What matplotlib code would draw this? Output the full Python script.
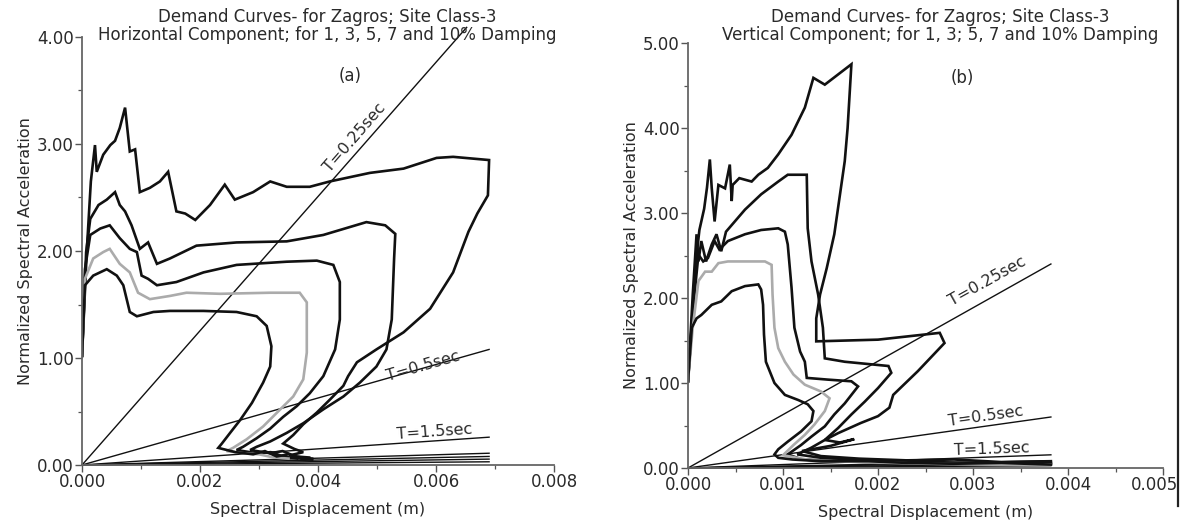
import numpy as np
import matplotlib
matplotlib.use("Agg")
import matplotlib.pyplot as plt
from matplotlib.lines import Line2D
from matplotlib.ticker import MultipleLocator, FormatStrFormatter, FuncFormatter

plt.rcParams["font.family"] = "DejaVu Sans"

# ---------------- (a) horizontal component ----------------
# spectral displacement in m, normalized spectral acceleration
h_1_sd = [0.0, 0.00008, 0.00015, 0.00022, 0.00025, 0.00036, 0.00048, 0.00056, 0.00064, 0.00073,
          0.00081, 0.00090, 0.00098, 0.00115, 0.00132, 0.00146, 0.00160, 0.00175, 0.00192, 0.00217,
          0.00242, 0.00259, 0.00290, 0.00319, 0.00347, 0.00386, 0.00420, 0.00488, 0.00545, 0.00601,
          0.00629, 0.00690, 0.00688, 0.00670, 0.00655, 0.00629, 0.00590, 0.00545, 0.00499, 0.00466,
          0.00451, 0.00443, 0.00420, 0.00398, 0.00375, 0.00358, 0.00341, 0.00360, 0.00375, 0.00352,
          0.00372, 0.00390]
h_1_sa = [1.02, 1.99, 2.65, 2.99, 2.74, 2.90, 2.99, 3.03, 3.15, 3.34,
          2.93, 2.95, 2.55, 2.59, 2.65, 2.74, 2.37, 2.35, 2.29, 2.43,
          2.62, 2.48, 2.55, 2.65, 2.60, 2.60, 2.65, 2.73, 2.77, 2.87,
          2.88, 2.85, 2.52, 2.35, 2.18, 1.80, 1.46, 1.24, 1.08, 0.96,
          0.83, 0.74, 0.61, 0.49, 0.38, 0.28, 0.20, 0.15, 0.12, 0.09,
          0.07, 0.06]

h_3_sd = [0.0, 0.00007, 0.00014, 0.00028, 0.00042, 0.00056, 0.00064, 0.00073, 0.00084, 0.00098,
          0.00112, 0.00127, 0.00149, 0.00194, 0.00262, 0.00347, 0.00409, 0.00482, 0.00514, 0.00531,
          0.00529, 0.00525, 0.00516, 0.00499, 0.00471, 0.00443, 0.00409, 0.00375, 0.00347, 0.00319,
          0.00296, 0.00285, 0.00319, 0.00340, 0.00362, 0.00385]
h_3_sa = [1.02, 1.99, 2.30, 2.43, 2.48, 2.55, 2.43, 2.37, 2.24, 2.02,
          2.08, 1.88, 1.93, 2.05, 2.08, 2.09, 2.15, 2.27, 2.24, 2.16,
          1.93, 1.36, 1.08, 0.92, 0.77, 0.64, 0.52, 0.39, 0.30, 0.22,
          0.17, 0.14, 0.11, 0.13, 0.08, 0.07]

h_5_sd = [0.0, 0.00005, 0.00014, 0.00031, 0.00047, 0.00064, 0.00081, 0.00093, 0.00101, 0.00112,
          0.00127, 0.00160, 0.00206, 0.00262, 0.00347, 0.00398, 0.00426, 0.00437, 0.00437, 0.00429,
          0.00409, 0.00386, 0.00364, 0.00341, 0.00319, 0.00296, 0.00273, 0.00262, 0.00296, 0.00320,
          0.00341, 0.00365]
h_5_sa = [1.02, 1.83, 2.15, 2.21, 2.24, 2.12, 2.02, 1.99, 1.77, 1.74,
          1.68, 1.71, 1.80, 1.87, 1.90, 1.91, 1.87, 1.71, 1.36, 1.08,
          0.83, 0.67, 0.55, 0.45, 0.34, 0.25, 0.17, 0.14, 0.11, 0.12,
          0.08, 0.06]

h_7_sd = [0.0, 0.00005, 0.00019, 0.00036, 0.00047, 0.00064, 0.00081, 0.00095, 0.00115, 0.00149,
          0.00177, 0.00234, 0.00319, 0.00369, 0.00381, 0.00381, 0.00375, 0.00358, 0.00336, 0.00307,
          0.00279, 0.00256, 0.00245, 0.00273, 0.00300, 0.00325, 0.00350]
h_7_sa = [1.02, 1.74, 1.93, 1.99, 2.02, 1.88, 1.80, 1.61, 1.55, 1.58,
          1.61, 1.60, 1.61, 1.61, 1.52, 1.05, 0.80, 0.64, 0.52, 0.36,
          0.24, 0.16, 0.13, 0.11, 0.10, 0.07, 0.06]

h_10_sd = [0.0, 0.00005, 0.00019, 0.00042, 0.00059, 0.00070, 0.00081, 0.00093, 0.00121, 0.00149,
           0.00206, 0.00262, 0.00296, 0.00313, 0.00321, 0.00319, 0.00307, 0.00288, 0.00268, 0.00251,
           0.00237, 0.00231, 0.00260, 0.00290, 0.00310, 0.00330, 0.00350, 0.00370, 0.00390]
h_10_sa = [1.02, 1.68, 1.77, 1.83, 1.77, 1.68, 1.43, 1.39, 1.43, 1.44,
           1.44, 1.43, 1.39, 1.30, 1.11, 0.92, 0.77, 0.58, 0.42, 0.30,
           0.20, 0.16, 0.12, 0.10, 0.13, 0.08, 0.10, 0.06, 0.05]

# constant period lines (end points)
h_line_sd = [0.00652, 0.0069, 0.0069, 0.0069, 0.0069, 0.0069, 0.0069]
h_line_sa = [4.09, 1.08, 0.26, 0.11, 0.08, 0.055, 0.03]

# ---------------- (b) vertical component ----------------
v_1_sd = [0.0, 0.00004, 0.00008, 0.00012, 0.00017, 0.00020, 0.00023, 0.00025, 0.00028, 0.00032,
          0.00039, 0.00044, 0.00046, 0.00047, 0.00054, 0.00067, 0.00074, 0.00084, 0.00095, 0.00109,
          0.00123, 0.00132, 0.00144, 0.00158, 0.00172, 0.00168, 0.00165, 0.00154, 0.00146, 0.00139,
          0.00135, 0.00135, 0.00200, 0.00265, 0.00270, 0.00242, 0.00216, 0.00212, 0.00200, 0.00182,
          0.00158, 0.00144, 0.00160, 0.00175, 0.00150, 0.00120, 0.00140, 0.00180, 0.00230, 0.00280,
          0.00330, 0.00382]
v_1_sa = [1.02, 1.70, 2.40, 2.80, 3.05, 3.30, 3.63, 3.29, 2.90, 3.33,
          3.29, 3.57, 3.14, 3.33, 3.41, 3.37, 3.45, 3.53, 3.69, 3.92,
          4.24, 4.59, 4.51, 4.63, 4.75, 4.00, 3.61, 2.75, 2.35, 2.04,
          1.76, 1.49, 1.51, 1.59, 1.47, 1.14, 0.86, 0.71, 0.61, 0.53,
          0.41, 0.33, 0.30, 0.34, 0.26, 0.20, 0.14, 0.11, 0.09, 0.10,
          0.07, 0.08]

v_3_sd = [0.0, 0.00005, 0.00009, 0.00011, 0.00014, 0.00019, 0.00025, 0.00030, 0.00035, 0.00040,
          0.00060, 0.00077, 0.00095, 0.00105, 0.00125, 0.00126, 0.00130, 0.00137, 0.00142, 0.00144,
          0.00165, 0.00211, 0.00214, 0.00200, 0.00186, 0.00172, 0.00158, 0.00144, 0.00130, 0.00115,
          0.00140, 0.00190, 0.00250, 0.00310, 0.00382]
v_3_sa = [1.02, 2.04, 2.75, 2.43, 2.67, 2.43, 2.63, 2.75, 2.55, 2.78,
          3.04, 3.22, 3.37, 3.45, 3.45, 2.82, 2.43, 2.04, 1.65, 1.29,
          1.25, 1.20, 1.12, 0.94, 0.78, 0.63, 0.47, 0.33, 0.24, 0.16,
          0.12, 0.08, 0.07, 0.06, 0.06]

v_5_sd = [0.0, 0.00005, 0.00011, 0.00016, 0.00021, 0.00028, 0.00033, 0.00042, 0.00060, 0.00077,
          0.00095, 0.00102, 0.00105, 0.00109, 0.00112, 0.00118, 0.00123, 0.00125, 0.00147, 0.00172,
          0.00179, 0.00165, 0.00154, 0.00144, 0.00130, 0.00119, 0.00105, 0.00120, 0.00160, 0.00220,
          0.00290, 0.00382]
v_5_sa = [1.02, 1.84, 2.51, 2.43, 2.47, 2.67, 2.57, 2.67, 2.75, 2.80,
          2.82, 2.78, 2.63, 2.12, 1.65, 1.37, 1.25, 1.06, 1.04, 1.02,
          0.96, 0.76, 0.63, 0.49, 0.37, 0.27, 0.16, 0.10, 0.08, 0.06,
          0.05, 0.05]

v_7_sd = [0.0, 0.00005, 0.00011, 0.00018, 0.00025, 0.00032, 0.00042, 0.00060, 0.00081, 0.00088,
          0.00089, 0.00091, 0.00095, 0.00102, 0.00111, 0.00123, 0.00140, 0.00149, 0.00144, 0.00133,
          0.00123, 0.00111, 0.00100, 0.00130, 0.00180, 0.00250, 0.00320, 0.00382]
v_7_sa = [1.02, 1.65, 2.20, 2.31, 2.31, 2.41, 2.43, 2.43, 2.43, 2.39,
          2.04, 1.65, 1.41, 1.25, 1.10, 0.98, 0.90, 0.82, 0.67, 0.51,
          0.39, 0.27, 0.15, 0.09, 0.07, 0.05, 0.04, 0.04]

v_10_sd = [0.0, 0.00004, 0.00009, 0.00014, 0.00025, 0.00035, 0.00046, 0.00060, 0.00074, 0.00077,
           0.00079, 0.00080, 0.00082, 0.00091, 0.00102, 0.00116, 0.00126, 0.00132, 0.00130, 0.00119,
           0.00105, 0.00095, 0.00091, 0.00095, 0.00110, 0.00140, 0.00190, 0.00230, 0.00280, 0.00330,
           0.00382]
v_10_sa = [1.02, 1.65, 1.76, 1.80, 1.92, 1.96, 2.08, 2.14, 2.16, 2.10,
           1.92, 1.57, 1.25, 1.00, 0.86, 0.80, 0.75, 0.67, 0.55, 0.43,
           0.31, 0.22, 0.16, 0.12, 0.10, 0.08, 0.08, 0.06, 0.05, 0.06,
           0.04]

v_line_sd = [0.00382, 0.00382, 0.00382, 0.00382, 0.00382, 0.00382, 0.00382]
v_line_sa = [2.40, 0.60, 0.155, 0.086, 0.067, 0.047, 0.027]

damping = ["1%", "3%", "5%", "7%", "10%"]
curve_colors = ["#111111", "#111111", "#111111", "#ababab", "#111111"]

panels = [
    dict(curves=[(h_1_sd, h_1_sa), (h_3_sd, h_3_sa), (h_5_sd, h_5_sa), (h_7_sd, h_7_sa), (h_10_sd, h_10_sa)],
         line_sd=h_line_sd, line_sa=h_line_sa,
         xlim=0.008, ylim=4.0, xmaj=0.002, xmin=0.001,
         title2="Horizontal Component; for 1, 3, 5, 7 and 10% Damping", tag="(a)",
         tag_xy=(0.00454, 3.64), title_x=327,
         labels=[("T=0.25sec", 0.00462, 3.06, 49), ("T=0.5sec", 0.00578, 0.92, 16), ("T=1.5sec", 0.00598, 0.31, 4)],
         rect=[82 / 1182, 1 - 465 / 522, 472 / 1182, 428 / 522]),
    dict(curves=[(v_1_sd, v_1_sa), (v_3_sd, v_3_sa), (v_5_sd, v_5_sa), (v_7_sd, v_7_sa), (v_10_sd, v_10_sa)],
         line_sd=v_line_sd, line_sa=v_line_sa,
         xlim=0.005, ylim=5.0, xmaj=0.001, xmin=0.0005,
         title2="Vertical Component; for 1, 3; 5, 7 and 10% Damping", tag="(b)",
         tag_xy=(0.00289, 4.59), title_x=940,
         labels=[("T=0.25sec", 0.00315, 2.20, 29), ("T=0.5sec", 0.00314, 0.61, 8), ("T=1.5sec", 0.00320, 0.22, 2)],
         rect=[688 / 1182, 1 - 468 / 522, 475 / 1182, 425 / 522]),
]

fig = plt.figure(figsize=(11.82, 5.22), dpi=100)

for p in panels:
    ax = fig.add_axes(p["rect"])
    # period lines from the origin
    for sd, sa in zip(p["line_sd"], p["line_sa"]):
        ax.plot([0, sd], [0, sa], color="#111111", lw=1.0, clip_on=False)
    for (sd, sa), c in zip(p["curves"], curve_colors):
        ax.plot(sd, sa, color=c, lw=1.9, solid_joinstyle="miter")
    for txt, x, y, rot in p["labels"]:
        ax.text(x, y, txt, fontsize=11.5, rotation=rot, ha="center", va="center",
                rotation_mode="anchor", color="#2a2a2a")
    ax.text(*p["tag_xy"], p["tag"], fontsize=12, ha="center", va="center", color="#2a2a2a")

    xlim = p["xlim"]
    ax.set_xlim(0, xlim)
    ax.set_ylim(0, p["ylim"])
    ax.xaxis.set_major_locator(MultipleLocator(p["xmaj"]))
    ax.xaxis.set_minor_locator(MultipleLocator(p["xmin"]))
    ax.yaxis.set_major_locator(MultipleLocator(1.0))
    ax.yaxis.set_minor_locator(MultipleLocator(0.5))
    # the label of a tick at the very right end is written separately below
    ax.xaxis.set_major_formatter(FuncFormatter(
        lambda v, pos, lim=xlim: "" if abs(v - lim) < 1e-9 and lim == 0.005 else f"{v:.3f}"))
    ax.yaxis.set_major_formatter(FormatStrFormatter("%.2f"))
    for s in ["top", "right"]:
        ax.spines[s].set_visible(False)
    for s in ["left", "bottom"]:
        ax.spines[s].set_color("#666666")
        ax.spines[s].set_linewidth(1.3)
    ax.tick_params(which="major", length=5, width=1.0, color="#555555", labelsize=12,
                   labelcolor="#2a2a2a", pad=1)
    ax.tick_params(which="minor", length=3, width=0.9, color="#555555")
    ax.set_xlabel("Spectral Displacement (m)", fontsize=11.5, color="#2a2a2a", labelpad=8)
    ax.set_ylabel("Normalized Spectral Acceleration", fontsize=11.5, color="#2a2a2a", labelpad=3)

    cx = p["title_x"] / 1182
    fig.text(cx, 1 - 17 / 522, "Demand Curves- for Zagros; Site Class-3", fontsize=12,
             ha="center", va="center", color="#2a2a2a")
    fig.text(cx, 1 - 35 / 522, p["title2"], fontsize=12, ha="center", va="center", color="#2a2a2a")

# end label of panel (b), pulled in slightly from the right edge of the scan
ax.annotate("0.005", xy=(0.005, 0), xycoords=("data", "axes fraction"),
            xytext=(-6, -6), textcoords="offset points", ha="center", va="top",
            fontsize=12, color="#2a2a2a", annotation_clip=False)

# dark border line along the right edge of the scanned figure
fig.add_artist(Line2D([1178 / 1182, 1178 / 1182], [0.03, 1.0], transform=fig.transFigure,
                      color="#222222", lw=1.6))

fig.savefig("out.png", dpi=100, facecolor="white")
